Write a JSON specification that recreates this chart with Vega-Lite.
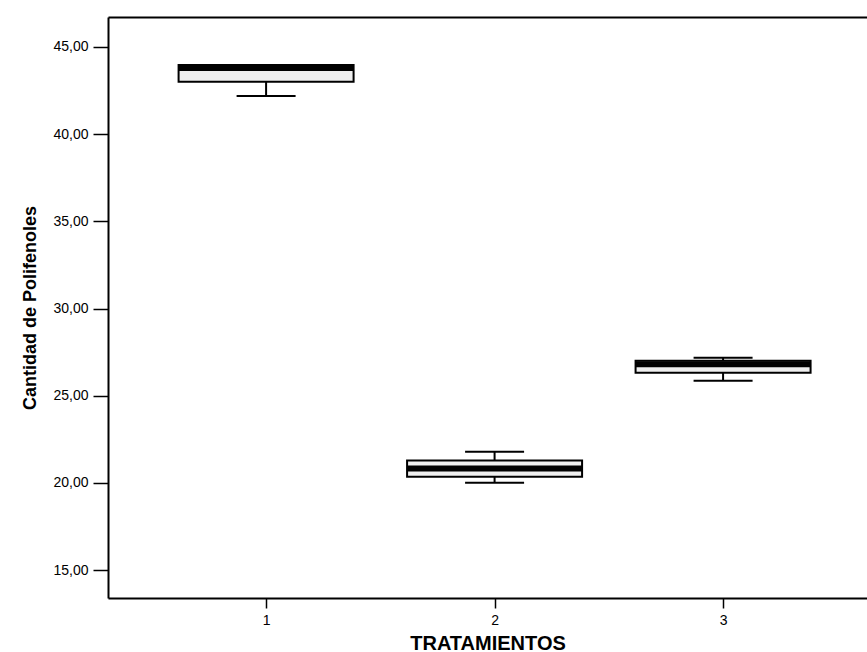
{
  "$schema": "https://vega.github.io/schema/vega-lite/v6.json",
  "width": 759,
  "height": 581,
  "autosize": "none",
  "padding": {"left": 108, "top": 17, "right": 0, "bottom": 54},
  "background": "white",
  "config": {"view": {"stroke": null}, "font": "Liberation Sans"},
  "data": {"values": [
    {"tratamiento": 1, "min": 42.19, "q1": 43.0, "median": 43.8, "q3": 43.97, "max": 43.97},
    {"tratamiento": 2, "min": 20.01, "q1": 20.36, "median": 20.82, "q3": 21.28, "max": 21.79},
    {"tratamiento": 3, "min": 25.86, "q1": 26.32, "median": 26.8, "q3": 27.0, "max": 27.18}
  ]},
  "resolve": {"axis": {"x": "independent", "y": "independent"}},
  "layer": [
    {
      "mark": {"type": "rule", "stroke": "black", "strokeWidth": 2},
      "encoding": {
        "x": {"field": "tratamiento", "type": "quantitative", "scale": {"domain": [0.33, 3.608], "nice": false, "zero": false},
          "axis": {"values": [1, 2, 3], "format": "d", "domainColor": "black", "domainWidth": 2, "tickColor": "black", "tickWidth": 1.5, "tickSize": 10, "labelFontSize": 14, "labelColor": "black", "labelPadding": 5, "grid": false, "title": "TRATAMIENTOS", "titleFontSize": 20, "titleFontWeight": "bold", "titleColor": "black", "titlePadding": 6}},
        "y": {"field": "min", "type": "quantitative", "scale": {"domain": [13.4, 46.72], "nice": false, "zero": false},
          "axis": {"values": [15, 20, 25, 30, 35, 40, 45], "labelExpr": "replace(format(datum.value, '.2f'), '.', ',')", "domainColor": "black", "domainWidth": 2, "tickColor": "black", "tickWidth": 1.5, "tickSize": 15, "labelFontSize": 14, "labelColor": "black", "labelPadding": 5, "grid": false, "title": "Cantidad de Polifenoles", "titleFontSize": 18, "titleFontWeight": "bold", "titleColor": "black", "titlePadding": 13}},
        "y2": {"field": "q1"}
      }
    },
    {
      "mark": {"type": "rule", "stroke": "black", "strokeWidth": 2},
      "encoding": {
        "x": {"field": "tratamiento", "type": "quantitative", "axis": {"orient": "top", "domainColor": "black", "domainWidth": 2, "ticks": false, "labels": false, "grid": false, "title": null}},
        "y": {"field": "q3", "type": "quantitative", "axis": null},
        "y2": {"field": "max"}
      }
    },
    {
      "mark": {"type": "tick", "orient": "horizontal", "size": 59, "thickness": 2, "color": "black", "opacity": 1},
      "encoding": {
        "x": {"field": "tratamiento", "type": "quantitative", "axis": null},
        "y": {"field": "min", "type": "quantitative", "axis": null}
      }
    },
    {
      "mark": {"type": "tick", "orient": "horizontal", "size": 59, "thickness": 2, "color": "black", "opacity": 1},
      "encoding": {
        "x": {"field": "tratamiento", "type": "quantitative", "axis": null},
        "y": {"field": "max", "type": "quantitative", "axis": null}
      }
    },
    {
      "mark": {"type": "bar", "size": 175, "fill": "#efefef", "stroke": "black", "strokeWidth": 2},
      "encoding": {
        "x": {"field": "tratamiento", "type": "quantitative", "axis": null},
        "y": {"field": "q1", "type": "quantitative", "axis": null},
        "y2": {"field": "q3"}
      }
    },
    {
      "mark": {"type": "tick", "orient": "horizontal", "size": 175, "thickness": 6, "color": "black", "opacity": 1},
      "encoding": {
        "x": {"field": "tratamiento", "type": "quantitative", "axis": null},
        "y": {"field": "median", "type": "quantitative", "axis": null}
      }
    }
  ]
}
